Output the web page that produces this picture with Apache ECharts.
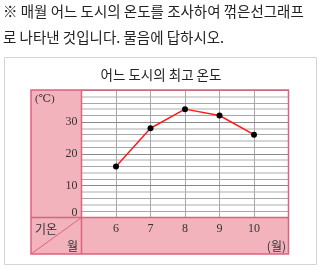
<!DOCTYPE html>
<html><head><meta charset="utf-8">
<script src="https://cdn.jsdelivr.net/npm/echarts@6/dist/echarts.min.js"></script>
<style>html,body{margin:0;padding:0;background:#fff}#c{width:320px;height:268px}</style>
</head><body><div id="c"></div>
<script>
const months = [6, 7, 8, 9, 10];
const temps = [16, 28, 34, 32, 26];
const yTickLabels = ['0', '10', '20', '30'];
const titleText = '어느 도시의 최고 온도';
const introLine1 = '※ 매월 어느 도시의 온도를 조사하여 꺾은선그래프';
const introLine2 = '로 나타낸 것입니다. 물음에 답하시오.';

const PINK = '#f2b3bc', BORDER = '#e0607e';
const GL = 81.5, GR = 288.5, GT = 90, GB = 217.5, FB = 254;
const serif = '"Liberation Serif", "DejaVu Serif", serif';
const kfont = '"Noto Sans CJK KR", sans-serif';

const chart = echarts.init(document.getElementById('c'), null, {renderer: 'canvas'});
chart.setOption({
  animation: false,
  grid: {left: GL, right: 320 - GR, top: GT, bottom: 268 - GB},
  xAxis: {
    type: 'value', min: 5, max: 11, interval: 1,
    axisLine: {show: false}, axisTick: {show: false},
    axisLabel: {margin: 5, color: '#333', fontFamily: serif, fontSize: 12,
      formatter: v => months.indexOf(v) >= 0 ? String(v) : ''},
    splitLine: {show: true, showMinLine: false, showMaxLine: false, lineStyle: {color: '#aaa', width: 1}}
  },
  yAxis: [
    {type: 'value', min: 0, max: 40, interval: 10,
      axisLine: {show: false}, axisTick: {show: false},
      axisLabel: {margin: 4, color: '#333', fontFamily: serif, fontSize: 12,
        formatter: v => v === 0 ? '{z|0}' : (yTickLabels.indexOf(String(v)) >= 0 ? String(v) : ''),
        rich: {z: {padding: [0, 0, 9, 0], fontFamily: serif, fontSize: 12, color: '#333'}}},
      splitLine: {show: true, lineStyle: {color: '#8a8a8a', width: 1}}, z: 3},
    {type: 'value', min: 0, max: 40, interval: 2, show: true,
      axisLine: {show: false}, axisTick: {show: false}, axisLabel: {show: false},
      splitLine: {show: true, lineStyle: {color: ['rgba(0,0,0,0)', '#a8a8a8', 'rgba(0,0,0,0)', '#a8a8a8', 'rgba(0,0,0,0)'], width: 1}}},
    {type: 'value', min: 0, max: 40, interval: 2, show: true,
      axisLine: {show: false}, axisTick: {show: false}, axisLabel: {show: false},
      splitLine: {show: true, lineStyle: {color: ['rgba(0,0,0,0)', 'rgba(0,0,0,0)', '#d6d6d6', 'rgba(0,0,0,0)', '#d6d6d6'], width: 2}}}
  ],
  series: [{
    type: 'line', yAxisIndex: 0, z: 5,
    data: months.map((m, i) => [m, temps[i]]),
    lineStyle: {color: '#ff1a1a', width: 1.5},
    symbol: 'circle', symbolSize: 6,
    itemStyle: {color: '#000'}
  }],
  graphic: [
    {type: 'rect', shape: {x: 4.5, y: 57.5, width: 312, height: 207}, style: {fill: 'none', stroke: '#d4d4d4', lineWidth: 1}, z: 0},
    {type: 'rect', shape: {x: 31, y: GT, width: GL - 31, height: FB - GT}, style: {fill: PINK}, z: 0},
    {type: 'rect', shape: {x: 31, y: GB, width: GR - 31, height: FB - GB}, style: {fill: PINK}, z: 0},
    {type: 'rect', shape: {x: 31, y: GT, width: GR - 31, height: FB - GT}, style: {fill: 'none', stroke: BORDER, lineWidth: 1.5}, z: 10},
    {type: 'line', shape: {x1: 31, y1: GB, x2: GR, y2: GB}, style: {stroke: BORDER, lineWidth: 1.5}, z: 10},
    {type: 'line', shape: {x1: GL, y1: GT, x2: GL, y2: FB}, style: {stroke: BORDER, lineWidth: 1.5}, z: 10},
    {type: 'line', shape: {x1: 31, y1: FB, x2: GL, y2: GB}, style: {stroke: BORDER, lineWidth: 1}, z: 10},
    {type: 'text', x: 3, y: 11, style: {text: introLine1, font: '14.5px ' + kfont, fill: '#222', verticalAlign: 'middle'}, z: 10},
    {type: 'text', x: 3, y: 37, style: {text: introLine2, font: '14.5px ' + kfont, fill: '#222', verticalAlign: 'middle'}, z: 10},
    {type: 'text', x: 161, y: 75, style: {text: titleText, font: '13.5px ' + kfont, fill: '#222', align: 'center', verticalAlign: 'middle'}, z: 10},
    {type: 'text', x: 35, y: 99, style: {text: '(℃)', font: '11px ' + serif, fill: '#333', verticalAlign: 'middle'}, z: 10},
    {type: 'text', x: 35, y: 229, style: {text: '기온', font: '12px ' + kfont, fill: '#333', verticalAlign: 'middle'}, z: 10},
    {type: 'text', x: 78, y: 246, style: {text: '월', font: '12px ' + kfont, fill: '#333', align: 'right', verticalAlign: 'middle'}, z: 10},
    {type: 'text', x: 286, y: 246, style: {text: '(월)', font: '12px ' + kfont, fill: '#333', align: 'right', verticalAlign: 'middle'}, z: 10}
  ]
});
</script></body></html>
